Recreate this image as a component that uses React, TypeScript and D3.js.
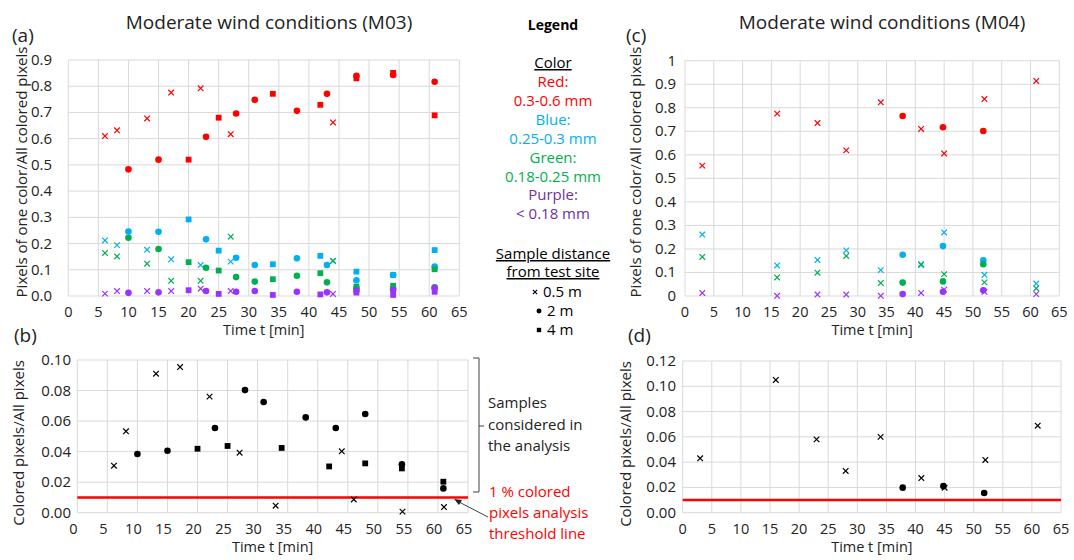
import React from 'react';
import * as d3 from 'd3';

const FONT = "'Open Sans', sans-serif";
const RED = '#ff0000';
const BLUE = '#00b0f0';
const GREEN = '#00b050';
const PURPLE = '#9933ff';
const BLACK = '#000000';
const GRID = '#d9d9d9';

// ---------- Panel (a): M03, fraction per colour ----------
const aTimesX = [6.1, 8.1, 13.1, 17.1, 22.0, 27.0, 44.0];
const aTimesDot = [10.0, 15.0, 22.9, 27.9, 31.0, 38.0, 43.0, 47.9, 54.0, 60.9];
const aTimesSq = [20.0, 25.0, 34.0, 41.9, 47.9, 54.0, 60.9];

const aRedX = [0.61, 0.632, 0.677, 0.776, 0.792, 0.617, 0.662];
const aRedDot = [0.483, 0.52, 0.607, 0.696, 0.748, 0.706, 0.771, 0.84, 0.843, 0.817];
const aRedSq = [0.52, 0.68, 0.771, 0.729, 0.83, 0.851, 0.689];

const aBlueX = [0.212, 0.194, 0.176, 0.14, 0.118, 0.131, 0.135];
const aBlueDot = [0.246, 0.245, 0.216, 0.146, 0.118, 0.144, 0.118, 0.06, 0.08, 0.112];
const aBlueSq = [0.292, 0.173, 0.121, 0.153, 0.093, 0.08, 0.175];

const aGreenX = [0.164, 0.151, 0.123, 0.058, 0.058, 0.226, 0.133];
const aGreenDot = [0.222, 0.179, 0.108, 0.072, 0.055, 0.077, 0.052, 0.03, 0.03, 0.033];
const aGreenSq = [0.129, 0.097, 0.064, 0.087, 0.036, 0.039, 0.102];

const aPurpleX = [0.009, 0.019, 0.019, 0.019, 0.028, 0.019, 0.008];
const aPurpleDot = [0.012, 0.014, 0.019, 0.016, 0.019, 0.016, 0.014, 0.02, 0.023, 0.03];
const aPurpleSq = [0.022, 0.008, 0.004, 0.006, 0.013, 0.004, 0.016];

// ---------- Panel (b): M03, coloured / all ----------
const bTimesX = [6.1, 8.1, 13.1, 17.1, 22.0, 27.0, 33.0, 44.0, 46.0, 54.1, 61.0];
const bValsX = [0.0308, 0.0533, 0.091, 0.0954, 0.076, 0.0393, 0.0046, 0.0402, 0.0087, 0.0007, 0.0037];
const bValsDot = [0.0384, 0.0406, 0.0555, 0.0803, 0.0725, 0.0624, 0.0555, 0.0646, 0.0317, 0.0159];
const bValsSq = [0.0419, 0.0437, 0.0424, 0.0303, 0.0323, 0.029, 0.0203];

// ---------- Panel (c): M04, fraction per colour ----------
const cTimesX = [3, 16, 23, 28, 34, 41, 45, 52, 61];
const cTimesDot = [37.8, 44.8, 51.8];
const cRedX = [0.554, 0.775, 0.735, 0.619, 0.823, 0.71, 0.606, 0.837, 0.914];
const cRedDot = [0.765, 0.717, 0.701];
const cBlueX = [0.261, 0.13, 0.153, 0.194, 0.11, 0.135, 0.27, 0.09, 0.053];
const cBlueDot = [0.175, 0.212, 0.152];
const cGreenX = [0.166, 0.079, 0.099, 0.17, 0.055, 0.132, 0.093, 0.058, 0.032];
const cGreenDot = [0.057, 0.062, 0.135];
const cPurpleX = [0.013, 0.001, 0.006, 0.006, 0.001, 0.013, 0.027, 0.018, 0.008];
const cPurpleDot = [0.008, 0.018, 0.024];

// ---------- Panel (d): M04, coloured / all ----------
const dValsX = [0.043, 0.105, 0.058, 0.033, 0.06, 0.0274, 0.0198, 0.0417, 0.0688];
const dValsDot = [0.0198, 0.021, 0.0156];

const THRESHOLD = 0.01;

const xTicks = d3.range(0, 66, 5);
const yTicksA = d3.range(0, 10).map((i) => i / 10);
const yTicksB = d3.range(0, 6).map((i) => i * 0.02);
const yTicksC = d3.range(0, 11).map((i) => i / 10);
const yTicksD = d3.range(0, 7).map((i) => i * 0.02);

const legendColorLines = [
  { text: 'Red:', color: RED },
  { text: '0.3-0.6 mm', color: RED },
  { text: 'Blue:', color: BLUE },
  { text: '0.25-0.3 mm', color: BLUE },
  { text: 'Green:', color: GREEN },
  { text: '0.18-0.25 mm', color: GREEN },
  { text: 'Purple:', color: '#7030a0' },
  { text: '< 0.18 mm', color: '#7030a0' },
];
const legendDistances = ['0.5 m', '2 m', '4 m'];
const legendShapes: Shape[] = ['x', 'dot', 'sq'];

type Shape = 'x' | 'dot' | 'sq';
type Series = { t: number[]; v: number[]; shape: Shape; color: string };

function Marker({ shape, x, y, color, s = 1 }: { shape: Shape; x: number; y: number; color: string; s?: number }) {
  if (shape === 'dot') return <circle cx={x} cy={y} r={3.3 * s} fill={color} />;
  if (shape === 'sq') return <rect x={x - 2.9 * s} y={y - 2.9 * s} width={5.8 * s} height={5.8 * s} fill={color} />;
  const h = 2.8 * s;
  return (
    <path
      d={`M${x - h},${y - h}L${x + h},${y + h}M${x - h},${y + h}L${x + h},${y - h}`}
      stroke={color}
      strokeWidth={1.2}
      fill="none"
    />
  );
}

type PanelProps = {
  left: number;
  right: number;
  top: number;
  bottom: number;
  yMax: number;
  yTicks: number[];
  yFmt: (v: number) => string;
  labelRight: number;
  xLabelDx: number;
  yTitle: string;
  yTitleX: number;
  yTitleY: number;
  series: Series[];
  threshold?: boolean;
};

function Panel(p: PanelProps) {
  const x = d3.scaleLinear().domain([0, 65]).range([p.left, p.right]);
  const y = d3.scaleLinear().domain([0, p.yMax]).range([p.bottom, p.top]);
  return (
    <g>
      {p.yTicks.map((t) => (
        <line key={'gy' + t} x1={p.left} x2={p.right} y1={y(t)} y2={y(t)} stroke={GRID} strokeWidth={1} />
      ))}
      {xTicks.map((t) => (
        <line key={'gx' + t} x1={x(t)} x2={x(t)} y1={p.top} y2={p.bottom} stroke={GRID} strokeWidth={1} />
      ))}
      {p.yTicks.map((t) => (
        <text key={'ly' + t} x={p.labelRight} y={y(t) + 5} textAnchor="end" fontSize={15} fill="#222">
          {p.yFmt(t)}
        </text>
      ))}
      {xTicks.map((t) => (
        <text key={'lx' + t} x={x(t) + p.xLabelDx} y={p.bottom + 21} textAnchor="middle" fontSize={14.5} fill="#222">
          {t}
        </text>
      ))}
      <text x={(p.left + p.right) / 2} y={p.bottom + 39} textAnchor="middle" fontSize={14.5} fill="#222">
        Time t [min]
      </text>
      <text
        transform={`translate(${p.yTitleX},${p.yTitleY}) rotate(-90)`}
        textAnchor="middle"
        dominantBaseline="central"
        fontSize={15}
        fill="#222"
      >
        {p.yTitle}
      </text>
      {p.threshold && (
        <line x1={p.left} x2={p.right} y1={y(THRESHOLD)} y2={y(THRESHOLD)} stroke={RED} strokeWidth={2.5} />
      )}
      {p.series.map((s, si) =>
        s.t.map((t, i) => <Marker key={si + '-' + i} shape={s.shape} x={x(t)} y={y(s.v[i])} color={s.color} />)
      )}
    </g>
  );
}

const seriesA: Series[] = [
  { t: aTimesX, v: aRedX, shape: 'x', color: RED },
  { t: aTimesDot, v: aRedDot, shape: 'dot', color: RED },
  { t: aTimesSq, v: aRedSq, shape: 'sq', color: RED },
  { t: aTimesX, v: aBlueX, shape: 'x', color: BLUE },
  { t: aTimesDot, v: aBlueDot, shape: 'dot', color: BLUE },
  { t: aTimesSq, v: aBlueSq, shape: 'sq', color: BLUE },
  { t: aTimesX, v: aGreenX, shape: 'x', color: GREEN },
  { t: aTimesDot, v: aGreenDot, shape: 'dot', color: GREEN },
  { t: aTimesSq, v: aGreenSq, shape: 'sq', color: GREEN },
  { t: aTimesX, v: aPurpleX, shape: 'x', color: PURPLE },
  { t: aTimesDot, v: aPurpleDot, shape: 'dot', color: PURPLE },
  { t: aTimesSq, v: aPurpleSq, shape: 'sq', color: PURPLE },
];
const seriesB: Series[] = [
  { t: bTimesX, v: bValsX, shape: 'x', color: BLACK },
  { t: aTimesDot, v: bValsDot, shape: 'dot', color: BLACK },
  { t: aTimesSq, v: bValsSq, shape: 'sq', color: BLACK },
];
const seriesC: Series[] = [
  { t: cTimesX, v: cRedX, shape: 'x', color: RED },
  { t: cTimesDot, v: cRedDot, shape: 'dot', color: RED },
  { t: cTimesX, v: cBlueX, shape: 'x', color: BLUE },
  { t: cTimesDot, v: cBlueDot, shape: 'dot', color: BLUE },
  { t: cTimesX, v: cGreenX, shape: 'x', color: GREEN },
  { t: cTimesDot, v: cGreenDot, shape: 'dot', color: GREEN },
  { t: cTimesX, v: cPurpleX, shape: 'x', color: PURPLE },
  { t: cTimesDot, v: cPurpleDot, shape: 'dot', color: PURPLE },
];
const seriesD: Series[] = [
  { t: cTimesX, v: dValsX, shape: 'x', color: BLACK },
  { t: cTimesDot, v: dValsDot, shape: 'dot', color: BLACK },
];

export default function App() {
  const lx = 553;
  return (
    <svg
      width={1074}
      height={560}
      style={{ position: 'absolute', left: 0, top: 0, background: '#fff', fontFamily: FONT }}
    >
      <rect width={1074} height={560} fill="#fff" />
      {/* titles and panel letters */}
      <text x={269} y={29} textAnchor="middle" fontSize={19} fill="#222">Moderate wind conditions (M03)</text>
      <text x={882} y={29} textAnchor="middle" fontSize={19} fill="#222">Moderate wind conditions (M04)</text>
      <text x={12} y={42} fontSize={19} fill="#222">(a)</text>
      <text x={14} y={342} fontSize={19} fill="#222">(b)</text>
      <text x={626} y={42} fontSize={19} fill="#222">(c)</text>
      <text x={628} y={342} fontSize={19} fill="#222">(d)</text>

      <Panel
        left={68.3} right={459.3} top={60} bottom={296} yMax={0.9} yTicks={yTicksA}
        yFmt={(v) => v.toFixed(1)} labelRight={52} xLabelDx={0}
        yTitle="Pixels of one color/All colored pixels" yTitleX={21} yTitleY={172}
        series={seriesA}
      />
      <Panel
        left={77.3} right={468} top={360} bottom={512.7} yMax={0.1} yTicks={yTicksB}
        yFmt={(v) => v.toFixed(2)} labelRight={71} xLabelDx={-4}
        yTitle="Colored pixels/All pixels" yTitleX={18} yTitleY={443}
        series={seriesB} threshold
      />
      <Panel
        left={685} right={1059.3} top={60.7} bottom={296} yMax={1} yTicks={yTicksC}
        yFmt={(v) => d3.format('~g')(+v.toFixed(1))} labelRight={676} xLabelDx={0}
        yTitle="Pixels of one color/All colored pixels" yTitleX={635} yTitleY={172}
        series={seriesC}
      />
      <Panel
        left={682.7} right={1061} top={361} bottom={512.7} yMax={0.12} yTicks={yTicksD}
        yFmt={(v) => v.toFixed(2)} labelRight={676} xLabelDx={0}
        yTitle="Colored pixels/All pixels" yTitleX={625} yTitleY={444}
        series={seriesD} threshold
      />

      {/* Legend */}
      <text x={lx} y={30} textAnchor="middle" fontSize={14} fontWeight="bold" fill="#000">Legend</text>
      <text x={lx} y={68} textAnchor="middle" fontSize={15} fill="#000" textDecoration="underline">Color</text>
      {legendColorLines.map((l, i) => (
        <text key={l.text} x={lx} y={87 + i * 18.9} textAnchor="middle" fontSize={15} fill={l.color}>
          {l.text}
        </text>
      ))}
      <text x={lx} y={259} textAnchor="middle" fontSize={15} fill="#000" textDecoration="underline">Sample distance</text>
      <text x={lx} y={277} textAnchor="middle" fontSize={15} fill="#000" textDecoration="underline">from test site</text>
      {legendDistances.map((d, i) => (
        <g key={d}>
          <Marker shape={legendShapes[i]} x={lx - 18 + (i === 0 ? 0 : 4)} y={292 + i * 19} color="#000" s={0.75} />
          <text x={lx - 10 + (i === 0 ? 0 : 4)} y={297 + i * 19} fontSize={15} fill="#000">{d}</text>
        </g>
      ))}

      {/* bracket */}
      <path d="M473,358H479V492H473M479,426H484" stroke="#404040" strokeWidth={1} fill="none" />
      <text x={488} y={408} fontSize={15} fill="#222">Samples</text>
      <text x={488} y={430} fontSize={15} fill="#222">considered in</text>
      <text x={488} y={451} fontSize={15} fill="#222">the analysis</text>

      {/* threshold annotation */}
      <text x={489} y={497} fontSize={15} fill={RED}>1 % colored</text>
      <text x={489} y={518} fontSize={15} fill={RED}>pixels analysis</text>
      <text x={489} y={539} fontSize={15} fill={RED}>threshold line</text>
      <line x1={488} y1={517} x2={459} y2={502} stroke="#404040" strokeWidth={1} />
      <path d="M454,499L462,500L459,505Z" fill="#202020" />
    </svg>
  );
}
